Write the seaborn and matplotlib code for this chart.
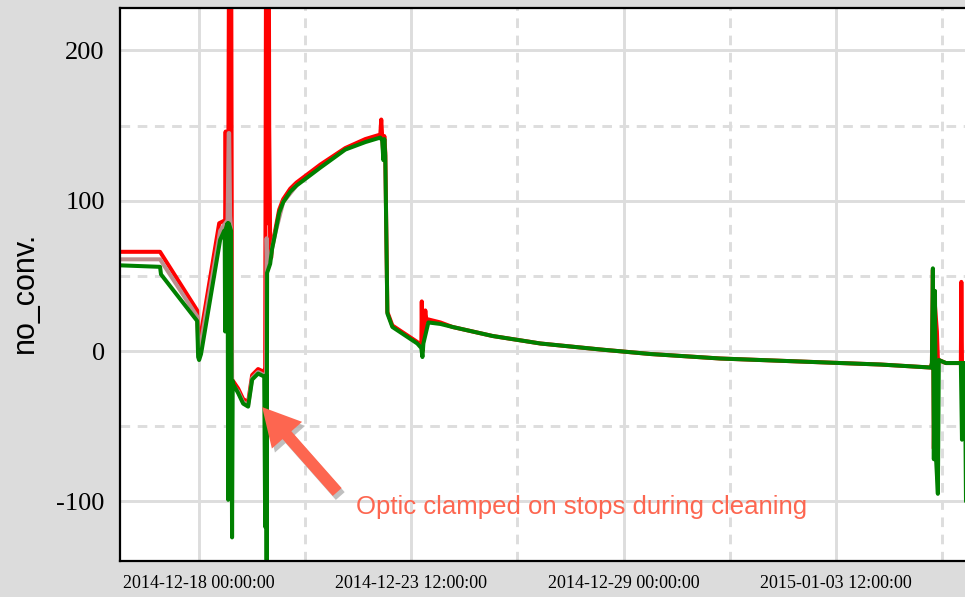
import numpy as np
import pandas as pd
import matplotlib
matplotlib.use("Agg")
import matplotlib.pyplot as plt
import matplotlib.dates as mdates
import matplotlib.patheffects as pe
import seaborn as sns

# hours after 2014-12-18 00:00 and readings
base = pd.Timestamp("2014-12-18 00:00:00")

red_h = [-49.2, -24.3, -1.2, -0.6, 0.0, 1.2, 12.5, 16.2, 16.5, 16.8, 18.1, 18.7, 19.9, 20.5,
         24.3, 27.4, 30.5, 33.0, 36.7, 40.5, 41.1, 41.7, 42.3, 42.6, 43.3, 43.6, 44.2, 44.8,
         45.4, 47.3, 49.8, 52.3, 56.7, 60.5, 69.2, 75.4, 90.9, 103.4, 112.7, 113.3, 113.9,
         114.6, 115.2, 115.8, 117.1, 120.2, 135.7, 138.2, 138.5, 138.9, 140.1, 140.7, 141.4,
         142.6, 150.1, 157.6, 182.5, 212.3, 249.7, 280.8, 324.4, 374.2, 424.0, 455.2, 455.8,
         456.4, 457.0, 457.7, 458.9, 459.5, 460.1, 464.5, 470.7, 473.8, 474.1, 474.5, 477.0]
red_v = [66, 66, 27, 10, 5, 12, 85, 87, 146, 90, 95, 300, 300, -19,
         -25, -32, -34, -16, -12, -14, -11, 300, 85, 300, 300, 150, 70, 62,
         70, 80, 94, 101, 108, 112, 119, 124, 135, 141, 144, 154, 142,
         130, 143, 132, 26, 17, 6, 3, 33, 0, 20, 27, 20,
         21, 19, 16, 10, 5, 1, -2, -5, -7, -9, -11, -8,
         54, -65, 30, 13, -5, -6, -8, -8, -8, 46, -8, -8]

gray_h = [-49.2, -24.3, -1.2, -0.6, 0.0, 1.2, 13.1, 15.6, 17.7, 18.1, 18.4, 18.7, 19.3, 19.9,
          20.5, 24.3, 27.4, 30.5, 33.0, 36.7, 40.5, 41.7, 42.0, 42.3, 44.2, 47.3, 52.3, 60.5]
gray_v = [61, 61, 23, 4, 0, 6, 80, 84, 87, 120, 145, 145, 90, 80,
          -22, -27, -34, -36, -18, -14, -16, -16, 75, 60, 62, 78, 99, 110]

green_h = [-49.2, -24.3, -23.7, -1.2, -0.6, 0.0, 1.2, 13.1, 15.6, 15.9, 16.2, 16.5, 16.8, 17.7,
           18.1, 18.4, 19.9, 20.5, 20.9, 21.2, 24.3, 27.4, 30.5, 33.0, 36.7, 40.5, 41.1, 41.4,
           41.7, 42.0, 42.3, 44.2, 45.4, 47.3, 49.8, 52.3, 56.7, 60.5, 69.2, 75.4, 90.9, 103.4,
           112.7, 113.9, 114.6, 115.2, 115.8, 117.1, 120.2, 135.7, 138.2, 138.9, 139.5, 142.6,
           150.1, 157.6, 182.5, 212.3, 249.7, 280.8, 324.4, 374.2, 424.0, 455.2, 455.8, 456.4,
           457.0, 457.7, 458.3, 459.5, 460.1, 464.5, 470.7, 473.8, 474.5, 475.1, 476.3, 477.0]
green_v = [57, 56, 51, 20, -4, -6, -2, 74, 80, 80, 13, 81, 82, 85,
           -99, 85, 80, -124, -20, -22, -28, -35, -37, -19, -15, -17, -117, -17,
           -16, -139, 52, 58, 68, 78, 92, 99, 106, 110, 117, 122, 134, 139,
           142, 140, 127, 141, 130, 25, 16, 5, 2, -4, 5, 19,
           18, 16, 10, 5, 1, -2, -5, -7, -9, -11, -8, 55,
           -72, 40, -70, -95, -6, -8, -8, -8, -59, -8, -8, -100]

frames = []
for name, hh, vv in [("red", red_h, red_v), ("gray", gray_h, gray_v), ("green", green_h, green_v)]:
    frames.append(pd.DataFrame({"time": base + pd.to_timedelta(hh, unit="h"),
                                "no_conv": vv, "series": name}))
df = pd.concat(frames, ignore_index=True)

sns.set_theme(style="white")
plt.rcParams["font.family"] = ["Liberation Serif", "DejaVu Serif"]
plt.rcParams["axes.unicode_minus"] = False

fig = plt.figure(figsize=(9.65, 5.97), dpi=100, facecolor="#dcdcdc")
ax = fig.add_axes([120 / 965, 36 / 597, 846 / 965, 553 / 597])
ax.set_facecolor("white")

sns.lineplot(data=df, x="time", y="no_conv", hue="series", hue_order=["red", "gray", "green"],
             palette={"red": "#ff0000", "gray": "#bc8f8f", "green": "#008000"},
             estimator=None, sort=False, linewidth=2.9, legend=False, ax=ax)

ax.set_xlim(base + pd.Timedelta(hours=-49.2), base + pd.Timedelta(hours=477.0))
ax.set_ylim(-139.7, 228.2)

major_x = [pd.Timestamp(s) for s in ["2014-12-18 00:00", "2014-12-23 12:00",
                                     "2014-12-29 00:00", "2015-01-03 12:00"]]
minor_x = [pd.Timestamp(s) for s in ["2014-12-20 18:00", "2014-12-26 06:00",
                                     "2014-12-31 18:00", "2015-01-06 06:00"]]
ax.xaxis.set_major_locator(matplotlib.ticker.FixedLocator(mdates.date2num(major_x)))
ax.xaxis.set_minor_locator(matplotlib.ticker.FixedLocator(mdates.date2num(minor_x)))
ax.xaxis.set_major_formatter(mdates.DateFormatter("%Y-%m-%d %H:%M:%S"))
ax.set_yticks([200, 100, 0, -100])
ax.set_yticks([150, 50, -50], minor=True)

ax.grid(which="major", color="#dddddd", linewidth=2.1, linestyle="-")
ax.grid(which="minor", color="#dddddd", linewidth=2.1, linestyle=(0, (3.3, 2.6)))
ax.set_axisbelow(True)

ax.tick_params(axis="both", which="both", length=0)
ax.tick_params(axis="y", labelsize=19, pad=11, colors="black")
ax.tick_params(axis="x", labelsize=13, pad=10, colors="black")
ax.set_xlabel("")
ax.set_ylabel("")

for side in ["left", "top", "bottom"]:
    ax.spines[side].set_color("black")
    ax.spines[side].set_linewidth(1.6)
ax.spines["right"].set_visible(False)

fig.text(25 / 965, 1 - 292 / 597, "no_conv.", rotation=90, ha="center", va="center",
         fontsize=22, family=["Liberation Sans", "DejaVu Sans"], color="black")

note_color = "#fd6650"
tip = (mdates.date2num(base + pd.Timedelta(hours=39.2)), -37.3)
tail = (mdates.date2num(base + pd.Timedelta(hours=85.9)), -93.8)
ax.annotate("", xy=tip, xytext=tail,
            arrowprops=dict(arrowstyle="simple,head_length=2.7,head_width=2.9,tail_width=0.85",
                            mutation_scale=10, fc=note_color, ec="none", shrinkA=0, shrinkB=0,
                            path_effects=[pe.SimplePatchShadow(offset=(2.2, -2.9),
                                                               shadow_rgbFace="#b0b0b0", alpha=0.8),
                                          pe.Normal()]))
ax.text(mdates.date2num(base + pd.Timedelta(hours=97.8)), -108.4,
        "Optic clamped on stops during cleaning", color=note_color, fontsize=18.5,
        family=["Liberation Sans", "DejaVu Sans"], ha="left", va="baseline")

fig.savefig("out.png", dpi=100, facecolor=fig.get_facecolor())
